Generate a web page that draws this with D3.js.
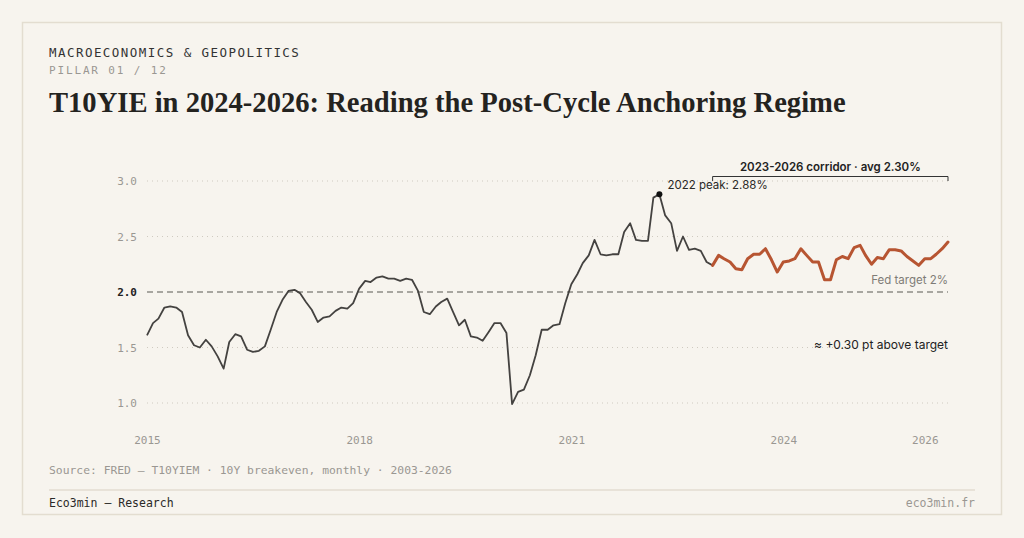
<!DOCTYPE html>
<html>
<head>
<meta charset="utf-8">
<script src="https://cdn.jsdelivr.net/npm/d3@7"></script>
<style>
  html, body { margin: 0; padding: 0; background: #f7f4ee; }
  svg { display: block; }
  .mono { font-family: "DejaVu Sans Mono", monospace; }
  .sans { font-family: Inter, "Noto Sans", sans-serif; }
</style>
</head>
<body>
<div id="chart"></div>
<script>
const width = 1024;
const height = 538;

// T10YIEM, monthly, Jan 2015 -> May 2026
const firstMonth = "2015-01";
const t10yie = [
  1.61, 1.72, 1.76, 1.86, 1.87, 1.86, 1.82, 1.61, 1.52, 1.50, 1.57, 1.51,
  1.42, 1.31, 1.55, 1.62, 1.60, 1.48, 1.46, 1.47, 1.51, 1.66, 1.82, 1.93,
  2.01, 2.02, 1.99, 1.91, 1.84, 1.73, 1.77, 1.78, 1.83, 1.86, 1.85, 1.90,
  2.03, 2.10, 2.09, 2.13, 2.14, 2.12, 2.12, 2.10, 2.12, 2.11, 2.01, 1.82,
  1.80, 1.87, 1.91, 1.94, 1.82, 1.70, 1.75, 1.60, 1.59, 1.56, 1.64, 1.72,
  1.72, 1.63, 0.99, 1.10, 1.12, 1.25, 1.43, 1.66, 1.66, 1.70, 1.71, 1.90,
  2.07, 2.16, 2.26, 2.33, 2.47, 2.34, 2.33, 2.34, 2.34, 2.54, 2.62, 2.47,
  2.46, 2.46, 2.85, 2.88, 2.69, 2.62, 2.37, 2.50, 2.38, 2.39, 2.37, 2.27,
  2.24, 2.33, 2.30, 2.27, 2.21, 2.20, 2.30, 2.34, 2.34, 2.39, 2.29, 2.18,
  2.27, 2.28, 2.30, 2.39, 2.33, 2.27, 2.27, 2.11, 2.11, 2.29, 2.32, 2.30,
  2.40, 2.42, 2.33, 2.25, 2.31, 2.30, 2.38, 2.38, 2.37, 2.32, 2.28, 2.24,
  2.30, 2.30, 2.34, 2.39, 2.45
];

const corridorStart = "2023-01";
const corridorLabel = "2023-2026 corridor · avg 2.30%";
const fedTarget = 2.0;
const peakLabel = "2022 peak: 2.88%";
const yTicks = [1.0, 1.5, 2.0, 2.5, 3.0];
const xTickYears = [2015, 2018, 2021, 2024, 2026];

const parseMonth = d3.timeParse("%Y-%m");
const start = parseMonth(firstMonth);
const data = t10yie.map((v, i) => ({ date: d3.timeMonth.offset(start, i), value: v }));
const corridorDate = parseMonth(corridorStart);
const history = data.filter(d => d.date <= corridorDate);
const corridor = data.filter(d => d.date >= corridorDate);
const peak = data.reduce((a, b) => (b.value > a.value ? b : a));

const svg = d3.select("#chart").append("svg")
  .attr("width", width)
  .attr("height", height);

// card
svg.append("rect")
  .attr("x", 22.5).attr("y", 22.5)
  .attr("width", 979).attr("height", 492)
  .attr("fill", "#f7f4ee")
  .attr("stroke", "#e3ddd0")
  .attr("stroke-width", 1.5);

// header
svg.append("text").attr("class", "mono")
  .attr("x", 49).attr("y", 57)
  .attr("font-size", 12.5).attr("letter-spacing", 1.45)
  .attr("fill", "#333")
  .text("MACROECONOMICS & GEOPOLITICS");

svg.append("text").attr("class", "mono")
  .attr("x", 49).attr("y", 74)
  .attr("font-size", 11).attr("letter-spacing", 1.85)
  .attr("fill", "#9a9792")
  .text("PILLAR 01 / 12");

svg.append("text")
  .attr("x", 49).attr("y", 112)
  .attr("font-family", "'Liberation Serif', 'DejaVu Serif', serif")
  .attr("font-weight", 700)
  .attr("font-size", 28.6)
  .attr("fill", "#24231f")
  .text("T10YIE in 2024-2026: Reading the Post-Cycle Anchoring Regime");

// scales
const x = d3.scaleTime()
  .domain([data[0].date, data[data.length - 1].date])
  .range([147, 948]);
const y = d3.scaleLinear().domain([1, 3]).range([403, 181]);

// grid
const grid = svg.append("g");
grid.selectAll("line")
  .data(yTicks.filter(t => t !== fedTarget))
  .join("line")
  .attr("x1", 147).attr("x2", 948)
  .attr("y1", d => y(d)).attr("y2", d => y(d))
  .attr("stroke", "#cfcac0")
  .attr("stroke-width", 1)
  .attr("stroke-dasharray", "1,4");

// y axis labels
const yAxis = svg.append("g")
  .attr("transform", "translate(137,0)")
  .call(d3.axisLeft(y).tickValues(yTicks).tickFormat(d3.format(".1f")).tickSize(0).tickPadding(0));
yAxis.select(".domain").remove();
yAxis.selectAll("text")
  .attr("class", "mono")
  .attr("font-size", 11)
  .attr("fill", d => d === fedTarget ? "#222" : "#9a9792")
  .attr("font-weight", d => d === fedTarget ? 700 : 400);

// x axis labels
const xAxis = svg.append("g")
  .attr("transform", "translate(0,436)")
  .call(d3.axisBottom(x)
    .tickValues(xTickYears.map(yr => new Date(yr, 0, 1)))
    .tickFormat(d3.timeFormat("%Y"))
    .tickSize(0).tickPadding(0));
xAxis.select(".domain").remove();
xAxis.selectAll("text")
  .attr("class", "mono")
  .attr("font-size", 11)
  .attr("fill", "#9a9792");

// fed target
svg.append("line")
  .attr("x1", 147).attr("x2", 948)
  .attr("y1", y(fedTarget)).attr("y2", y(fedTarget))
  .attr("stroke", "#8f8c86")
  .attr("stroke-width", 1.5)
  .attr("stroke-dasharray", "6,4");

svg.append("text").attr("class", "sans")
  .attr("x", 948).attr("y", 284)
  .attr("text-anchor", "end")
  .attr("font-size", 11.5)
  .attr("fill", "#7f7c77")
  .text("Fed target 2%");

// lines
const line = d3.line().x(d => x(d.date)).y(d => y(d.value));

svg.append("path")
  .datum(history)
  .attr("fill", "none")
  .attr("stroke", "#444240")
  .attr("stroke-width", 1.8)
  .attr("stroke-linejoin", "round")
  .attr("d", line);

svg.append("path")
  .datum(corridor)
  .attr("fill", "none")
  .attr("stroke", "#b75532")
  .attr("stroke-width", 3)
  .attr("stroke-linejoin", "round")
  .attr("stroke-linecap", "round")
  .attr("d", line);

// peak
svg.append("circle")
  .attr("cx", x(peak.date)).attr("cy", y(peak.value))
  .attr("r", 3).attr("fill", "#111");

svg.append("text").attr("class", "sans")
  .attr("x", x(peak.date) + 8).attr("y", y(peak.value) - 5)
  .attr("font-size", 11.5)
  .attr("fill", "#2a2927")
  .text(peakLabel);

// corridor bracket
const bx0 = x(corridorDate);
const bx1 = x(data[data.length - 1].date);
svg.append("path")
  .attr("d", `M${bx0},181V176.5H${bx1}V181`)
  .attr("fill", "none")
  .attr("stroke", "#333")
  .attr("stroke-width", 1);

svg.append("text").attr("class", "sans")
  .attr("x", (bx0 + bx1) / 2).attr("y", 171)
  .attr("text-anchor", "middle")
  .attr("font-size", 11.5)
  .attr("font-weight", 600)
  .attr("fill", "#222")
  .text(corridorLabel);

svg.append("text").attr("class", "sans")
  .attr("x", 948).attr("y", 349)
  .attr("text-anchor", "end")
  .attr("font-size", 12)
  .attr("fill", "#222")
  .text("≈ +0.30 pt above target");

// footer
svg.append("text").attr("class", "mono")
  .attr("x", 49).attr("y", 474)
  .attr("font-size", 11.35)
  .attr("fill", "#9a9792")
  .text("Source: FRED — T10YIEM · 10Y breakeven, monthly · 2003-2026");

svg.append("line")
  .attr("x1", 49).attr("x2", 975)
  .attr("y1", 490).attr("y2", 490)
  .attr("stroke", "#e3ddd0")
  .attr("stroke-width", 1.5);

svg.append("text").attr("class", "mono")
  .attr("x", 49).attr("y", 507)
  .attr("font-size", 11.5)
  .attr("fill", "#2a2927")
  .text("Eco3min — Research");

svg.append("text").attr("class", "mono")
  .attr("x", 975).attr("y", 507)
  .attr("text-anchor", "end")
  .attr("font-size", 11.5)
  .attr("fill", "#9a9792")
  .text("eco3min.fr");
</script>
</body>
</html>
